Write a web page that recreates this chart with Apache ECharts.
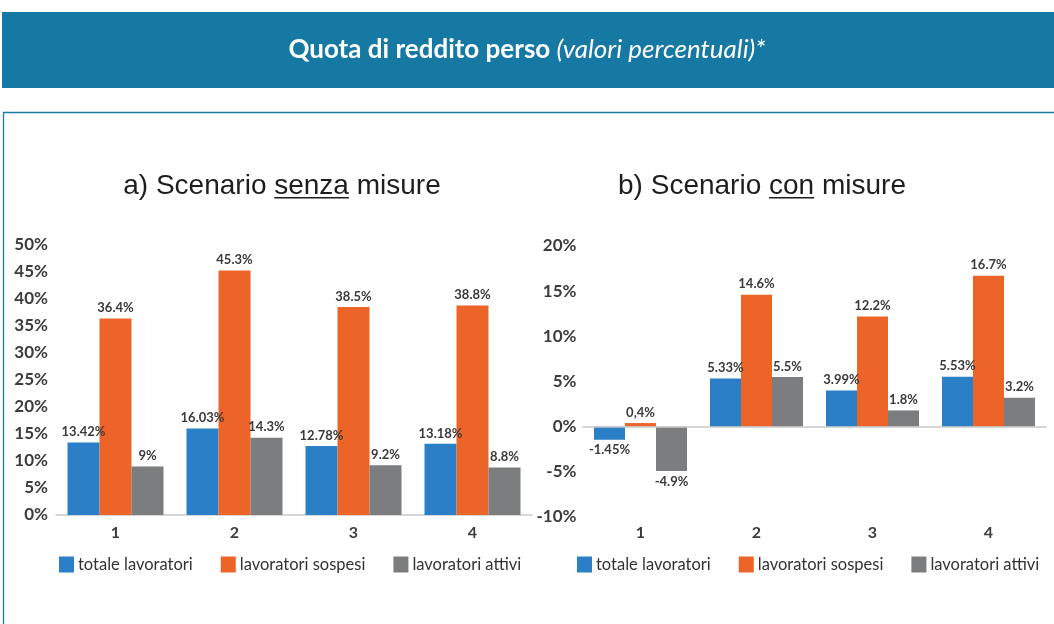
<!DOCTYPE html>
<html>
<head>
<meta charset="utf-8">
<script src="https://cdn.jsdelivr.net/npm/echarts@6/dist/echarts.min.js"></script>
<style>
html,body{margin:0;padding:0;background:#fff;}
#chart{width:1054px;height:624px;}
</style>
</head>
<body>
<div id="chart"></div>
<script>
// ---- data ----
const categories = ['1', '2', '3', '4'];
const seriesNames = ['totale lavoratori', 'lavoratori sospesi', 'lavoratori attivi'];
const senzaTotale = [13.42, 16.03, 12.78, 13.18];
const senzaSospesi = [36.4, 45.3, 38.5, 38.8];
const senzaAttivi = [9, 14.3, 9.2, 8.8];
const conTotale = [-1.45, 5.33, 3.99, 5.53];
const conSospesi = [0.4, 14.6, 12.2, 16.7];
const conAttivi = [-4.9, 5.5, 1.8, 3.2];
const conSospesiLabels = ['0,4%', '14.6%', '12.2%', '16.7%'];
const senzaAxis = [0, 50, 5];   // min, max, interval
const conAxis = [-10, 20, 5];
const mainTitle = ['Quota di reddito perso', '(valori percentuali)*'];
const subTitleA = ['a) Scenario ', 'senza', ' misure'];
const subTitleB = ['b) Scenario ', 'con', ' misure'];

const colors = ['#2a7fc6', '#ec6428', '#7b7d7f'];
const FONT = 'Lato, "Open Sans", sans-serif';
const TFONT = '"Liberation Sans", Arial, sans-serif';

const chart = echarts.init(document.getElementById('chart'));

function measure(txt, font) {
  const c = document.createElement('canvas').getContext('2d');
  c.font = font;
  return c.measureText(txt).width;
}

function subTitle(parts, cx, cy) {
  const size = 28;
  const f = size + 'px ' + TFONT;
  const full = parts.join('');
  const W = measure(full, f);
  const x0 = cx - W / 2;
  const u0 = x0 + measure(parts[0], f);
  const u1 = u0 + measure(parts[1], f);
  return [
    { type: 'text', left: x0, top: cy - size * 0.5, silent: true,
      style: { text: full, font: f, fill: '#1e1e1e' } },
    { type: 'line', silent: true,
      shape: { x1: u0, y1: cy + size * 0.42, x2: u1, y2: cy + size * 0.42 },
      style: { stroke: '#1e1e1e', lineWidth: 1.3 } }
  ];
}

const labelBase = {
  show: true, fontFamily: FONT, fontSize: 13, fontWeight: 'bold', color: '#3a3a3a', distance: 4
};

function makeSeries(vals, idx, gridIdx, labels) {
  return {
    name: seriesNames[idx], type: 'bar',
    xAxisIndex: gridIdx, yAxisIndex: gridIdx,
    barWidth: gridIdx === 0 ? 32 : 31, barGap: '0%',
    itemStyle: { color: colors[idx] },
    data: vals.map((v, i) => ({
      value: v,
      label: Object.assign({}, labelBase, {
        position: v < 0 ? 'bottom' : 'top',
        formatter: labels ? labels[i] : (v + '%')
      })
    })),
    markLine: (gridIdx === 1 && idx === 0) ? {
      silent: true, symbol: 'none', label: { show: false },
      lineStyle: { color: '#c9c9c9', width: 1.5, type: 'solid' },
      data: [{ yAxis: 0 }]
    } : undefined
  };
}

const yLabel = { fontFamily: FONT, fontSize: 17, fontWeight: 'bold', color: '#3c3c3c', formatter: '{value}%' };
const xLabel = { fontFamily: FONT, fontSize: 16, fontWeight: 'bold', color: '#3c3c3c' };
const legendText = { fontFamily: FONT, fontSize: 16.5, color: '#333', padding: [0, 0, 0, -1] };

const option = {
  animation: false,
  color: colors,
  graphic: [
    { type: 'rect', silent: true, shape: { x: 2, y: 12, width: 1060, height: 76 }, style: { fill: '#1579a4' } },
    { type: 'rect', silent: true, shape: { x: 3.5, y: 112.5, width: 1060, height: 530 },
      style: { fill: 'none', stroke: '#1a7ba6', lineWidth: 1.3 } },
    { type: 'text', left: 'center', top: 37, silent: true,
      style: {
        text: '{b|' + mainTitle[0] + ' }{i|' + mainTitle[1] + '}',
        rich: {
          b: { fontFamily: FONT, fontSize: 26, fontWeight: 'bold', fill: '#fff', color: '#fff' },
          i: { fontFamily: FONT, fontSize: 26, fontStyle: 'italic', fill: '#fff', color: '#fff' }
        }
      } }
  ].concat(subTitle(subTitleA, 282, 186), subTitle(subTitleB, 762, 186)),
  legend: [
    { left: 54, top: 551, itemWidth: 15, itemHeight: 16, itemGap: 28, icon: 'rect', selectedMode: false,
      data: seriesNames, textStyle: legendText },
    { left: 572, top: 551, itemWidth: 15, itemHeight: 16, itemGap: 28, icon: 'rect', selectedMode: false,
      data: seriesNames, textStyle: legendText }
  ],
  grid: [
    { left: 56, width: 476, top: 245, height: 270 },
    { left: 582.5, width: 464, top: 246, height: 271 }
  ],
  xAxis: [
    { type: 'category', gridIndex: 0, data: categories,
      axisLine: { lineStyle: { color: '#c9c9c9', width: 1.5 } }, axisTick: { show: false },
      axisLabel: Object.assign({ margin: 10 }, xLabel) },
    { type: 'category', gridIndex: 1, data: categories,
      axisLine: { show: false, onZero: false }, axisTick: { show: false },
      axisLabel: Object.assign({ margin: 8 }, xLabel) }
  ],
  yAxis: [
    { type: 'value', gridIndex: 0, min: senzaAxis[0], max: senzaAxis[1], interval: senzaAxis[2],
      splitLine: { show: false }, axisLine: { show: false }, axisTick: { show: false },
      axisLabel: Object.assign({ margin: 8 }, yLabel) },
    { type: 'value', gridIndex: 1, min: conAxis[0], max: conAxis[1], interval: conAxis[2],
      splitLine: { show: false }, axisLine: { show: false }, axisTick: { show: false },
      axisLabel: Object.assign({ margin: 6 }, yLabel) }
  ],
  series: [
    makeSeries(senzaTotale, 0, 0),
    makeSeries(senzaSospesi, 1, 0),
    makeSeries(senzaAttivi, 2, 0),
    makeSeries(conTotale, 0, 1),
    makeSeries(conSospesi, 1, 1, conSospesiLabels),
    makeSeries(conAttivi, 2, 1)
  ]
};
chart.setOption(option);
</script>
</body>
</html>
